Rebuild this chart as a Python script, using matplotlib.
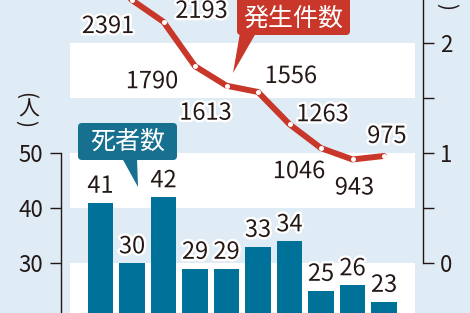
import matplotlib
matplotlib.use("Agg")
import matplotlib.pyplot as plt
import matplotlib.transforms as mtransforms
import matplotlib.patheffects as pe
from matplotlib.patches import FancyBboxPatch, Polygon
import numpy as np

plt.rcParams['font.family'] = ['Noto Sans CJK JP', 'DejaVu Sans']

# data (the first case value sits above the crop, estimated)
deaths = [41, 30, 42, 29, 29, 33, 34, 25, 26, 23]
cases = [2650, 2391, 2193, 1790, 1613, 1556, 1263, 1046, 943, 975]
case_ticks = [0, 1, 2]
death_ticks = [30, 40, 50]

# label offsets in pixels (dx, baseline dy downward) for case labels
case_offsets = [(0, 0), (-24, 33), (38, -4), (-43, 22), (-21, 34),
                (33, -9), (33, -3), (-22, 30), (2, 35), (3, -13)]

ink = '#231815'
bar_blue = '#00729a'
box_blue = '#17708f'
red = '#c8372a'
bg = '#dfebf5'

W, H = 470, 313
fig = plt.figure(figsize=(W / 100, H / 100), dpi=100, facecolor=bg)
ax = fig.add_axes([0, 0, 1, 1])
ax.set_facecolor('none')
# image pixel coords (y down) -> figure
P = mtransforms.Affine2D().scale(1 / W, -1 / H).translate(0, 1) + fig.transFigure

x = np.arange(len(deaths))
step = 31.5
x0 = 100.5
ax.set_xlim(-x0 / step, (W - x0) / step)
ax.set_ylim(30 - (H - 263.3) / 5.5, 30 + 263.3 / 5.5)

# white bands
for lo, hi in [(60, 70), (40, 50), (10, 30)]:
    ax.axhspan(lo, hi, xmin=70 / W, xmax=415 / W, color='white', zorder=0, lw=0)

ax.bar(x, deaths, width=0.8, color=bar_blue, zorder=2)
for xi, d in zip(x, deaths):
    ax.annotate(str(d), (xi, d), xytext=(0, 10), textcoords='offset pixels',
                ha='center', va='baseline', fontsize=17, color=ink, zorder=3,
                path_effects=[pe.withStroke(linewidth=3.5, foreground='white')])

ax.spines[['top', 'right', 'bottom']].set_visible(False)
ax.spines['left'].set_position(('data', (61 - x0) / step))
ax.spines['left'].set_bounds(0, 50)
ax.spines['left'].set_color(ink)
ax.spines['left'].set_linewidth(1)
ax.set_xticks([])
ax.set_yticks(death_ticks)
ax.tick_params(axis='y', length=8, width=1, color=ink, pad=5, labelsize=16, labelcolor=ink)

ax2 = ax.twinx()
ax2.set_facecolor('none')
ax2.set_ylim(-(H - 263.3) / 110.1, 263.3 / 110.1)
ax2.set_xlim(ax.get_xlim())
vals = np.array(cases) / 1000
ax2.plot(x, vals, color=red, lw=4.3, solid_capstyle='round', zorder=4,
         marker='o', markersize=3.6, markerfacecolor='white', markeredgecolor='none')
for i, (xi, v) in enumerate(zip(x, vals)):
    if i == 0:
        continue
    dx, dy = case_offsets[i]
    ax2.annotate(str(cases[i]), (xi, v), xytext=(dx, -dy), textcoords='offset pixels',
                 ha='center', va='baseline', fontsize=17, color=ink, zorder=5,
                 path_effects=[pe.withStroke(linewidth=3.5, foreground='white')])

ax2.spines[['top', 'left', 'bottom']].set_visible(False)
ax2.spines['right'].set_position(('data', (423 - x0) / step))
ax2.spines['right'].set_bounds(0, 3)
ax2.spines['right'].set_color(ink)
ax2.spines['right'].set_linewidth(1)
ax2.set_yticks(case_ticks)
ax2.set_yticks([0.5, 1.5], minor=True)
ax2.tick_params(axis='y', which='both', length=8, width=1, color=ink, pad=4,
                labelsize=16, labelcolor=ink)

# unit labels
fig.text(25, 96, '(', transform=P, rotation=-90, ha='center', va='center',
         fontsize=15, color=ink)
fig.text(29, 110, '人', transform=P, ha='center', va='center', fontsize=15, color=ink)
fig.text(25, 124, ')', transform=P, rotation=-90, ha='center', va='center',
         fontsize=15, color=ink)
fig.text(446, 7, ')', transform=P, rotation=-90, ha='center', va='center',
         fontsize=15, color=ink)
fig.text(446, -8, '件', transform=P, ha='center', va='center', fontsize=15, color=ink)

# callouts
box1 = FancyBboxPatch((78, 123), 99, 37, boxstyle='round,pad=0,rounding_size=4',
                      transform=P, fc=box_blue, ec='none', zorder=6)
ptr1 = Polygon([(122, 158), (137, 158), (138, 187)], closed=True, transform=P,
               fc=box_blue, ec='none', zorder=6)
fig.patches.extend([box1, ptr1])
fig.text(127.5, 142, '死者数', transform=P, ha='center', va='center',
         fontsize=18, color='white', zorder=7)

box2 = FancyBboxPatch((237, -10), 113, 45, boxstyle='round,pad=0,rounding_size=4',
                      transform=P, fc=red, ec='none', zorder=6)
ptr2 = Polygon([(240, 33), (256, 33), (233, 73)], closed=True, transform=P,
               fc=red, ec='none', zorder=6)
fig.patches.extend([box2, ptr2])
fig.text(293.5, 19, '発生件数', transform=P, ha='center', va='center',
         fontsize=18, color='white', zorder=7)

fig.savefig('out.png', dpi=100, facecolor=bg)
